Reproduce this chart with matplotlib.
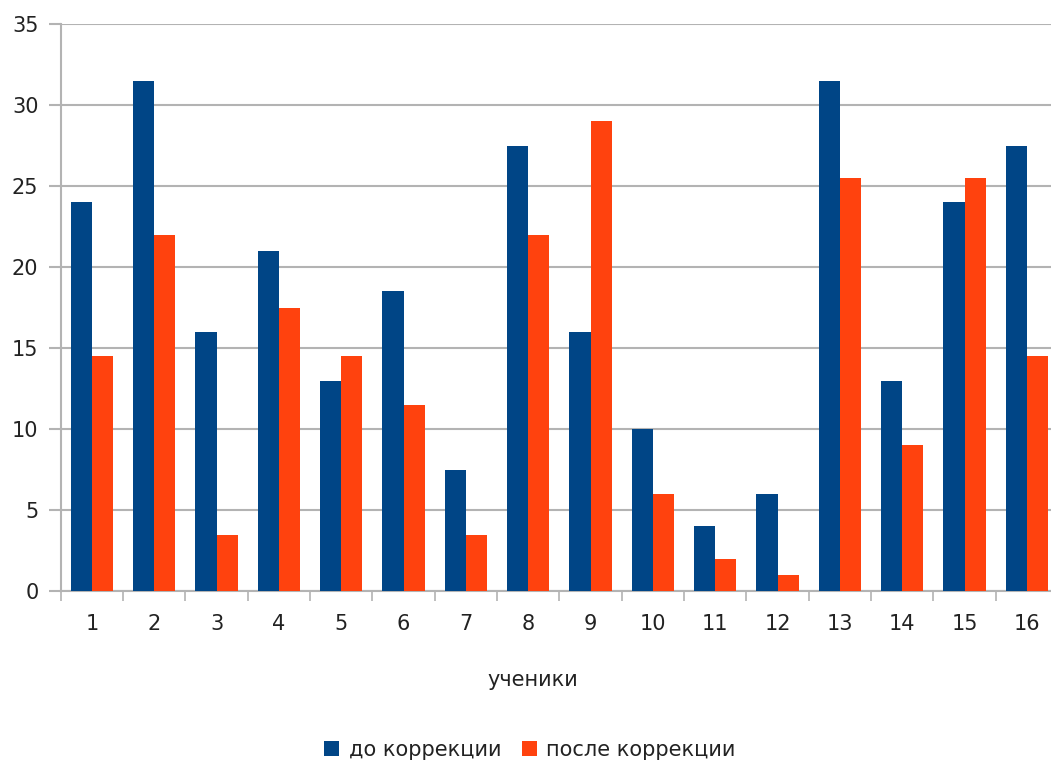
import numpy as np
import matplotlib.pyplot as plt
from matplotlib.ticker import FixedLocator

# Баллы учеников до и после коррекции
students = [str(i) for i in range(1, 17)]
before = [24, 31.5, 16, 21, 13, 18.5, 7.5, 27.5, 16, 10, 4, 6, 31.5, 13, 24, 27.5]
after = [14.5, 22, 3.5, 17.5, 14.5, 11.5, 3.5, 22, 29, 6, 2, 1, 25.5, 9, 25.5, 14.5]

blue = '#004586'
orange = '#ff420e'
grid_col = '#b3b3b3'
text_col = '#222222'

plt.rcParams['font.family'] = 'DejaVu Sans'
plt.rcParams['font.size'] = 15

fig = plt.figure(figsize=(10.51, 7.65), dpi=100)
W, H = 1051, 765
ax = fig.add_axes([60.7 / W, (H - 591.3) / H, (1058 - 60.7) / W, (591.3 - 24) / H])

x = np.arange(len(students))
w = 0.34
ax.bar(x - w / 2, before, w, color=blue, label='до коррекции', zorder=3)
ax.bar(x + w / 2, after, w, color=orange, label='после коррекции', zorder=3)

ax.set_xlim(-0.5, len(students) - 0.5)
ax.set_ylim(0, 35)
ax.set_yticks(range(0, 36, 5))
ax.yaxis.grid(True, color=grid_col, linewidth=1.5, zorder=0)

ax.set_xticks(x)
ax.set_xticklabels(students)
ax.xaxis.set_minor_locator(FixedLocator(np.arange(-0.5, len(students), 1)))
ax.tick_params(axis='x', which='major', length=0, pad=16, labelcolor=text_col)
ax.tick_params(axis='x', which='minor', length=7.5, width=1.2, color=grid_col)
ax.tick_params(axis='y', length=9, width=1.5, color=grid_col, pad=7, labelcolor=text_col)

for s in ['top', 'right']:
    ax.spines[s].set_visible(False)
for s in ['left', 'bottom']:
    ax.spines[s].set_color(grid_col)
    ax.spines[s].set_linewidth(1.5)

# подпись оси X
fig.text(533 / W, 1 - 680 / H, 'ученики', ha='center', va='center', color=text_col)

fig.legend(loc='center', bbox_to_anchor=(530 / W, 1 - 750 / H), ncol=2,
           frameon=False, handlelength=0.72, handleheight=0.72,
           handletextpad=0.45, columnspacing=1.0, labelcolor=text_col)

fig.savefig('out.png', dpi=100, facecolor='white')
